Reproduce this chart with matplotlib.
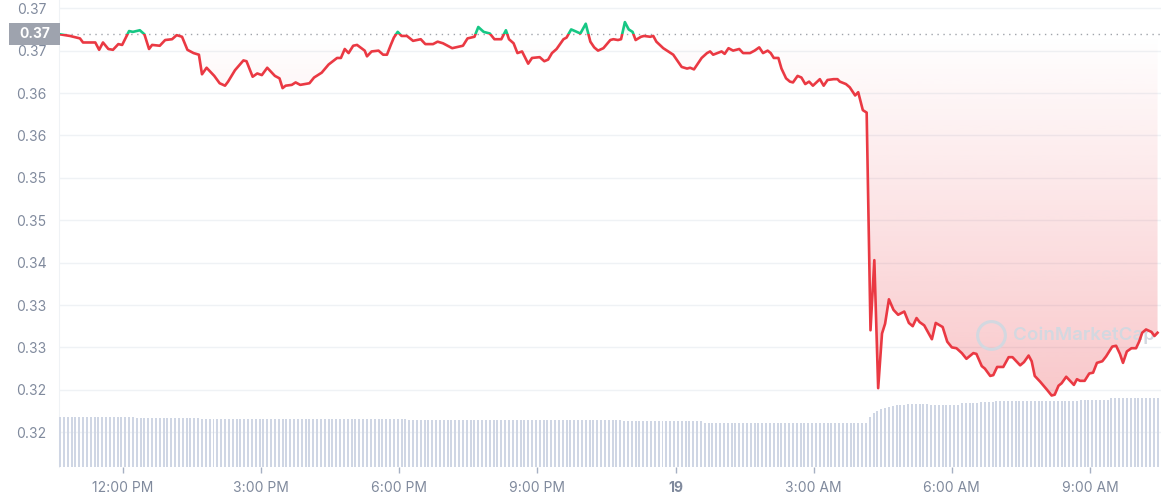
import datetime as dt
import numpy as np
import matplotlib
matplotlib.use("Agg")
import matplotlib.pyplot as plt
import matplotlib.dates as mdates
from matplotlib.path import Path
from matplotlib.patches import Rectangle
from matplotlib.ticker import FormatStrFormatter
from matplotlib.colors import to_rgb
from matplotlib import transforms

plt.rcParams["font.family"] = ["Inter", "DejaVu Sans"]

RED = "#ea3943"
GREEN = "#16c784"
GREY = "#808a9d"

start = dt.datetime(2023, 10, 18, 10, 38)
open_price = 0.3680

# minutes after start
minutes = [0, 13, 26, 30, 46, 51, 56, 63, 69, 76,
           81, 90, 95, 104, 110, 116, 120, 130, 137, 146,
           152, 159, 166, 174, 181, 185, 191, 201, 208, 215,
           219, 228, 239, 243, 251, 257, 263, 270, 280, 286,
           290, 294, 302, 307, 313, 325, 331, 341, 350, 361,
           366, 371, 376, 382, 387, 397, 400, 406, 415, 421,
           426, 431, 435, 440, 445, 452, 460, 470, 476, 486,
           492, 499, 507, 511, 525, 531, 540, 545, 552, 560,
           566, 575, 581, 585, 591, 596, 602, 610, 615, 625,
           631, 636, 641, 647, 656, 660, 666, 671, 678, 685,
           691, 696, 701, 708, 717, 721, 727, 731, 736, 741,
           746, 750, 757, 761, 769, 773, 777, 786, 799, 810,
           817, 821, 826, 836, 843, 847, 851, 862, 866, 871,
           877, 885, 890, 899, 905, 911, 916, 922, 926, 930,
           936, 940, 946, 951, 955, 961, 966, 971, 976, 981,
           990, 995, 1000, 1008, 1013, 1016, 1024, 1029, 1036, 1040,
           1046, 1051, 1056, 1061, 1066, 1071, 1075, 1080, 1086, 1092,
           1100, 1106, 1111, 1116, 1120, 1126, 1136, 1141, 1150, 1156,
           1162, 1168, 1175, 1181, 1190, 1194, 1201, 1205, 1212, 1216,
           1221, 1229, 1236, 1241, 1251, 1256, 1262, 1266, 1270, 1277,
           1286, 1292, 1296, 1301, 1305, 1311, 1317, 1321, 1325, 1329,
           1335, 1341, 1346, 1351, 1358, 1363, 1371, 1376, 1381, 1385,
           1390, 1396, 1402, 1406, 1410, 1415, 1422, 1426, 1430]

price = [0.3680, 0.3678, 0.3675, 0.3670, 0.3670, 0.3661, 0.3670, 0.3662, 0.3661, 0.3668,
         0.3667, 0.3684, 0.3683, 0.3685, 0.3680, 0.3662, 0.3667, 0.3666, 0.3673, 0.3674,
         0.3679, 0.3677, 0.3661, 0.3657, 0.3655, 0.3631, 0.3639, 0.3629, 0.3620, 0.3617,
         0.3622, 0.3636, 0.3648, 0.3647, 0.3628, 0.3632, 0.3630, 0.3639, 0.3629, 0.3626,
         0.3614, 0.3617, 0.3618, 0.3621, 0.3618, 0.3620, 0.3627, 0.3633, 0.3643, 0.3651,
         0.3651, 0.3662, 0.3657, 0.3666, 0.3667, 0.3660, 0.3653, 0.3659, 0.3660, 0.3655,
         0.3655, 0.3667, 0.3676, 0.3683, 0.3678, 0.3678, 0.3672, 0.3674, 0.3668, 0.3668,
         0.3671, 0.3669, 0.3665, 0.3663, 0.3666, 0.3675, 0.3677, 0.3689, 0.3683, 0.3681,
         0.3674, 0.3674, 0.3685, 0.3674, 0.3669, 0.3657, 0.3659, 0.3644, 0.3651, 0.3652,
         0.3647, 0.3649, 0.3657, 0.3662, 0.3674, 0.3676, 0.3686, 0.3684, 0.3681, 0.3693,
         0.3671, 0.3664, 0.3660, 0.3663, 0.3673, 0.3674, 0.3673, 0.3674, 0.3695, 0.3686,
         0.3683, 0.3673, 0.3677, 0.3678, 0.3677, 0.3678, 0.3671, 0.3663, 0.3655, 0.3640,
         0.3638, 0.3639, 0.3637, 0.3651, 0.3657, 0.3659, 0.3655, 0.3659, 0.3656, 0.3663,
         0.3660, 0.3662, 0.3657, 0.3657, 0.3660, 0.3664, 0.3657, 0.3660, 0.3657, 0.3651,
         0.3651, 0.3638, 0.3626, 0.3622, 0.3621, 0.3629, 0.3627, 0.3619, 0.3622, 0.3617,
         0.3625, 0.3617, 0.3624, 0.3625, 0.3625, 0.3622, 0.3619, 0.3615, 0.3605, 0.3609,
         0.3587, 0.3584, 0.3317, 0.3403, 0.3246, 0.3313, 0.3325, 0.3355, 0.3342, 0.3336,
         0.3340, 0.3326, 0.3322, 0.3332, 0.3327, 0.3323, 0.3306, 0.3326, 0.3321, 0.3303,
         0.3296, 0.3295, 0.3289, 0.3282, 0.3289, 0.3288, 0.3273, 0.3270, 0.3261, 0.3262,
         0.3272, 0.3272, 0.3284, 0.3284, 0.3274, 0.3278, 0.3286, 0.3279, 0.3261, 0.3254,
         0.3244, 0.3237, 0.3238, 0.3249, 0.3252, 0.3260, 0.3254, 0.3250, 0.3257, 0.3255,
         0.3255, 0.3264, 0.3265, 0.3277, 0.3279, 0.3285, 0.3297, 0.3298, 0.3288, 0.3277,
         0.3291, 0.3295, 0.3295, 0.3303, 0.3314, 0.3318, 0.3315, 0.3310, 0.3314]

# 24h volume (billions), one bar every 5 minutes
vol_step = 5
volume = ([1.01] * 20 + [0.98] * 17 + [0.96] * 54 + [0.95] * 56 + [0.92] * 21 + [0.88] * 43
          + [1.00, 1.08, 1.12, 1.16, 1.19, 1.21, 1.23, 1.24, 1.24, 1.25, 1.26]
          + [1.27] * 5 + [1.24] * 8 + [1.28] * 5 + [1.30] * 4 + [1.32] * 22
          + [1.35] * 8 + [1.38] * 13)

yticks = [0.3712, 0.3660, 0.3608, 0.3556, 0.3504, 0.3452, 0.3400, 0.3348, 0.3296, 0.3244, 0.3192]

t = mdates.date2num([start + dt.timedelta(minutes=m) for m in minutes])
p = np.array(price)
tv = mdates.date2num([start + dt.timedelta(minutes=vol_step * i) for i in range(len(volume))])

fig = plt.figure(figsize=(11.61, 5.0), dpi=100)
ax = fig.add_axes([59 / 1161, 33 / 500, 1102 / 1161, 467 / 500])

# gradient fills between line and open price
def gradient_fill(lo, hi, color, a_lo, a_hi, y0, y1):
    fb = ax.fill_between(t, lo, hi, color="none", lw=0)
    clip = Path.make_compound_path(*fb.get_paths())
    grad = np.zeros((256, 1, 4))
    grad[..., :3] = to_rgb(color)
    grad[:, 0, 3] = np.linspace(a_lo, a_hi, 256)
    im = ax.imshow(grad, extent=[t[0], t[-1], y0, y1], origin="lower",
                   aspect="auto", zorder=1, interpolation="bilinear")
    im.set_clip_path(clip, transform=ax.transData)

gradient_fill(np.minimum(p, open_price), open_price, RED, 0.28, 0.0, p.min(), open_price)
gradient_fill(open_price, np.maximum(p, open_price), GREEN, 0.0, 0.25, open_price, p.max())

blend = transforms.blended_transform_factory(ax.transAxes, ax.transData)
below = Rectangle((0, 0), 1, open_price, transform=blend)
above = Rectangle((0, open_price), 1, 1, transform=blend)
red_line, = ax.plot(t, p, color=RED, lw=1.9, zorder=4, solid_joinstyle="round")
green_line, = ax.plot(t, p, color=GREEN, lw=1.9, zorder=4, solid_joinstyle="round")
red_line.set_clip_path(below)
green_line.set_clip_path(above)

ax.axhline(open_price, color="#a0a4ab", lw=1, ls=(0, (1, 3.3)), zorder=3)

ax.set_xlim(mdates.date2num(start - dt.timedelta(minutes=1.3)),
            mdates.date2num(start + dt.timedelta(minutes=1434.5)))
ax.set_ylim(0.31493, 0.37221)

ax.set_yticks(yticks)
ax.yaxis.set_major_formatter(FormatStrFormatter("%.2f"))
ax.yaxis.grid(True, color="#eff2f5", lw=1)
ax.set_axisbelow(True)

tick_times = [dt.datetime(2023, 10, 18, 12) + dt.timedelta(hours=3 * k) for k in range(8)]
labels = []
for tt in tick_times:
    if tt.hour == 0:
        labels.append(str(tt.day))
    else:
        labels.append(f"{tt.hour % 12 or 12}:{tt.minute:02d} {'AM' if tt.hour < 12 else 'PM'}")
ax.set_xticks(mdates.date2num(tick_times), labels)
for lab in ax.get_xticklabels():
    if lab.get_text() == "19":
        lab.set_fontweight("bold")
        lab.set_color("#58667e")

ax.tick_params(axis="y", length=0, pad=9, labelsize=10, labelcolor=GREY)
ax.tick_params(axis="x", length=4, width=1, color="#a6b0c3", pad=6, labelsize=10, labelcolor=GREY)
for s in ["top", "right", "bottom"]:
    ax.spines[s].set_visible(False)
ax.spines["left"].set_color("#eff2f5")

# current price tag on the y axis
tag = Rectangle((-0.0454, open_price - 0.00135), 0.0463, 0.0027, transform=blend,
                facecolor="#9ea3ae", edgecolor="none", clip_on=False, zorder=6)
ax.add_patch(tag)
ax.text(-0.0222, open_price, f"{open_price:.2f}", transform=blend, ha="center", va="center",
        color="white", fontsize=10, fontweight="bold", zorder=7, clip_on=False)

# watermark
ax.plot([0.8457], [0.2827], transform=ax.transAxes, marker="o", ms=20, mfc="none",
        mec="#d3d8e0", mew=2.2, zorder=2, clip_on=False)
ax.text(0.8657, 0.2827, "CoinMarketCap", transform=ax.transAxes, ha="left", va="center",
        fontsize=13.5, fontweight="semibold", color="#d3d8e0", zorder=2)

# volume bars
ax_vol = ax.twinx()
ax_vol.bar(tv, volume, width=2.6 / 1440, color="#cfd6e4", align="center", lw=0)
ax_vol.set_ylim(0, 9.34)
ax_vol.axis("off")

fig.savefig("out.png", dpi=100)
